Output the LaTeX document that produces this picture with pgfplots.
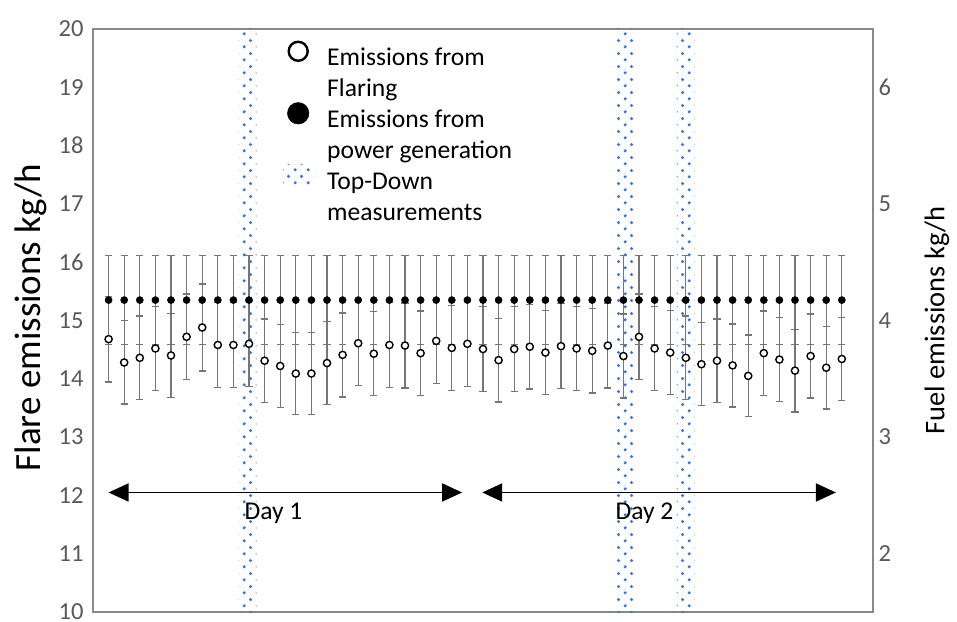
\documentclass[border=0pt]{standalone}
\usepackage{fontspec}
\setmainfont{Carlito}
\usepackage{pgfplots}
\pgfplotsset{compat=1.18}
\usepackage{pgfplotstable}
\usetikzlibrary{patterns,arrows.meta}

\pgfdeclarepatternformonly{bluedots}{\pgfqpoint{0pt}{0pt}}{\pgfqpoint{12.7pt}{12.8pt}}{\pgfqpoint{12.7pt}{12.8pt}}{%
  \pgfpathcircle{\pgfqpoint{3.2pt}{3.2pt}}{1.7pt}%
  \pgfpathcircle{\pgfqpoint{9.55pt}{9.6pt}}{1.7pt}%
  \pgfusepath{fill}}

\definecolor{dotblue}{RGB}{58,118,212}
\definecolor{tickgray}{RGB}{89,89,89}
\definecolor{framegray}{RGB}{137,137,137}
\definecolor{errgray}{RGB}{118,118,118}

\pgfplotstableread{
x flare power
1 14.68 15.35
2 14.28 15.35
3 14.36 15.35
4 14.52 15.35
5 14.40 15.35
6 14.72 15.35
7 14.88 15.35
8 14.58 15.35
9 14.58 15.35
10 14.60 15.35
11 14.31 15.35
12 14.22 15.35
13 14.09 15.35
14 14.09 15.35
15 14.27 15.35
16 14.41 15.35
17 14.61 15.35
18 14.43 15.35
19 14.58 15.35
20 14.57 15.35
21 14.44 15.35
22 14.65 15.35
23 14.53 15.35
24 14.60 15.35
25 14.51 15.35
26 14.32 15.35
27 14.51 15.35
28 14.55 15.35
29 14.45 15.35
30 14.56 15.35
31 14.52 15.35
32 14.48 15.35
33 14.57 15.35
34 14.39 15.35
35 14.72 15.35
36 14.52 15.35
37 14.45 15.35
38 14.36 15.35
39 14.25 15.35
40 14.31 15.35
41 14.23 15.35
42 14.05 15.35
43 14.44 15.35
44 14.33 15.35
45 14.14 15.35
46 14.39 15.35
47 14.19 15.35
48 14.34 15.35
}\datatable

\begin{document}
\begin{tikzpicture}
\begin{axis}[
  name=ax,
  scale only axis, width=780pt, height=583pt,
  xmin=0, xmax=50, ymin=10, ymax=20,
  xtick=\empty, ytick={10,11,...,20},
  major tick length=0pt,
  axis line style={framegray, line width=1.3pt},
  /pgf/number format/assume math mode=true,
  yticklabel style={font=\fontsize{24.5}{28}\selectfont, text=tickgray, xshift=-6pt},
  every axis y label/.style={at={(axis description cs:-0.0795,0.505)}, anchor=center, rotate=90},
  ylabel={\fontsize{37}{42}\selectfont Flare emissions kg/h},
  legend style={at={(axis description cs:0.25,0.969)}, anchor=north west, draw=none, fill=none,
    inner sep=0pt, font=\fontsize{25.6}{30}\selectfont, row sep=7pt,
    nodes={inner sep=0pt, text height=18pt, text depth=6pt},
    /tikz/every odd column/.append style={column sep=19pt}},
  legend cell align=left,
]
\addlegendimage{legend image code/.code={\path[draw=none, fill=none] (0pt,8pt) -- (20pt,8pt);\draw[overlay, black, line width=2.4pt, fill=white] (10pt,8pt) circle (9.5pt);}}
\addlegendentry{Emissions from}
\addlegendimage{empty legend}
\addlegendentry{Flaring}
\addlegendimage{legend image code/.code={\path[draw=none, fill=none] (0pt,8pt) -- (20pt,8pt);\fill[overlay, black] (10pt,8pt) circle (10.8pt);}}
\addlegendentry{Emissions from}
\addlegendimage{empty legend}
\addlegendentry{power generation}
\addlegendimage{legend image code/.code={\path[draw=none, fill=none] (0pt,8pt) -- (20pt,8pt);\path[overlay, draw=none, pattern=bluedots, pattern color=dotblue] (-5pt,-3pt) rectangle (25pt,19pt);}}
\addlegendentry{Top-Down}
\addlegendimage{empty legend}
\addlegendentry{measurements}

% top-down measurement bands
\addplot[draw=none, pattern=bluedots, pattern color=dotblue, forget plot] coordinates {(9.35,10) (9.35,20) (10.48,20) (10.48,10)} -- cycle;
\addplot[draw=none, pattern=bluedots, pattern color=dotblue, forget plot] coordinates {(33.48,10) (33.48,20) (34.70,20) (34.70,10)} -- cycle;
\addplot[draw=none, pattern=bluedots, pattern color=dotblue, forget plot] coordinates {(37.42,10) (37.42,20) (38.55,20) (38.55,10)} -- cycle;

% error bars
\addplot[draw=none, mark=none, forget plot,
  error bars/.cd, y dir=both, y fixed relative=0.05,
  error bar style={draw=errgray, line width=1.3pt},
  error mark options={draw=errgray, rotate=90, mark size=3.6pt, line width=1.3pt}]
  table[x=x, y=power]{\datatable};
\addplot[draw=none, mark=none, forget plot,
  error bars/.cd, y dir=both, y fixed relative=0.05,
  error bar style={draw=errgray, line width=1.3pt},
  error mark options={draw=errgray, rotate=90, mark size=3.6pt, line width=1.3pt}]
  table[x=x, y=flare]{\datatable};

% markers
\addplot[only marks, mark=*, mark size=3.6pt, mark options={fill=black, draw=black}, forget plot]
  table[x=x, y=power]{\datatable};
\addplot[only marks, mark=*, mark size=3.6pt, mark options={fill=white, draw=black, line width=1.4pt}, forget plot]
  table[x=x, y=flare]{\datatable};

% day arrows
\addplot[black, line width=1.8pt, arrows={Triangle[length=20pt,width=18pt]-Triangle[length=20pt,width=18pt]}, forget plot]
  coordinates {(1,12.05) (23.66,12.05)};
\addplot[black, line width=1.8pt, arrows={Triangle[length=20pt,width=18pt]-Triangle[length=20pt,width=18pt]}, forget plot]
  coordinates {(24.95,12.05) (47.62,12.05)};
\node[font=\fontsize{25.6}{30}\selectfont, inner sep=0pt] at (axis cs:11.57,11.70) {Day 1};
\node[font=\fontsize{25.6}{30}\selectfont, inner sep=0pt] at (axis cs:35.35,11.70) {Day 2};
\end{axis}
\begin{axis}[
  scale only axis, width=780pt, height=583pt, at={(ax.south west)}, anchor=south west,
  xmin=0, xmax=50, ymin=1.5, ymax=6.5,
  hide x axis, axis y line*=right,
  y axis line style={draw=none},
  ytick={2,3,...,6}, major tick length=0pt,
  /pgf/number format/assume math mode=true,
  yticklabel style={font=\fontsize{24.5}{28}\selectfont, text=tickgray, xshift=2pt},
  every axis y label/.style={at={(axis description cs:1.082,0.5)}, anchor=center, rotate=90},
  ylabel={\fontsize{28.5}{32}\selectfont Fuel emissions kg/h},
]
\addplot[draw=none, mark=none] coordinates {(0,2)};
\end{axis}
\pgfresetboundingbox
\path ([shift={(-93pt,-9pt)}]ax.south west) rectangle ([shift={(84pt,29pt)}]ax.north east);
\end{tikzpicture}
\end{document}
